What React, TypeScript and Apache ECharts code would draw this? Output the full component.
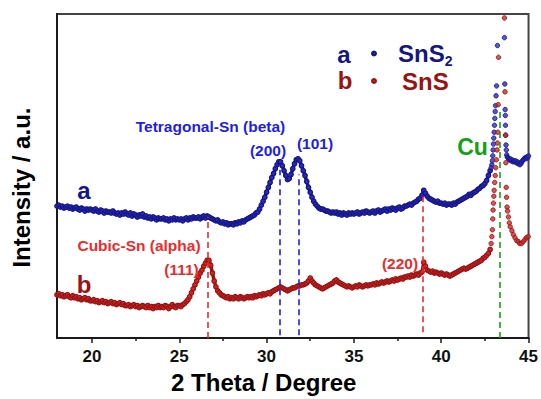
import React, { useEffect, useRef } from "react";
import * as echarts from "echarts";

// ---- data (intensity in arbitrary units) ----
const scanStart = 18.0; // 2-theta of first sample of the regular scan grid
const scanStep = 0.1;

// sample a (SnS2) 18.0 .. 42.8
const intensityA = [
  134, 135, 133, 134, 132, 133, 134, 132, 133, 131,
  132, 133, 131, 130, 132, 131, 129, 131, 130, 131,
  130, 129, 131, 129, 128, 130, 129, 127, 129, 128,
  128, 127, 129, 127, 126, 127, 125, 127, 126, 128,
  126, 125, 127, 124, 126, 125, 123, 125, 124, 126,
  123, 124, 122, 123, 121, 123, 122, 120, 122, 121,
  121, 122, 120, 121, 119, 121, 120, 122, 120, 121,
  120, 121, 119, 121, 122, 120, 122, 121, 123, 122,
  122, 123, 121, 123, 124, 122, 124, 123, 122, 121,
  120, 119, 120, 118, 117, 118, 116, 117, 115, 116,
  116, 115, 117, 116, 118, 117, 119, 118, 120, 121,
  122, 123, 124, 125, 127, 128, 131, 135, 139, 143,
  148, 153, 158, 163, 167, 172, 176, 179, 179, 175,
  170, 165, 161, 162, 166, 172, 177, 181, 182, 180,
  175, 170, 165, 159, 153, 148, 143, 139, 136, 134,
  132, 131, 131, 130, 129, 129, 128, 127, 128, 127,
  128, 126, 127, 125, 127, 126, 125, 127, 126, 127,
  126, 127, 128, 126, 127, 128, 127, 129, 128, 127,
  128, 129, 127, 129, 130, 128, 129, 130, 131, 129,
  131, 130, 132, 131, 130, 132, 133, 131, 132, 134,
  134, 135, 136, 135, 137, 138, 139, 141, 142, 145,
  150, 147, 144, 142, 141, 140, 139, 138, 139, 137,
  137, 136, 137, 135, 136, 136, 135, 137, 136, 138,
  139, 140, 141, 142, 143, 144, 146, 145, 147, 148,
  149, 151, 152, 154, 155, 157, 160, 165, 170,
];

// sample b (SnS) 18.0 .. 42.8
const intensityB = [
  44, 45, 43, 44, 42, 43, 44, 42, 41, 43,
  41, 42, 40, 41, 39, 40, 41, 39, 40, 38,
  38, 39, 37, 38, 36, 37, 38, 36, 37, 35,
  36, 37, 35, 36, 34, 35, 36, 34, 35, 33,
  33, 34, 32, 33, 34, 32, 33, 31, 32, 33,
  32, 31, 33, 31, 32, 30, 32, 31, 33, 31,
  32, 31, 33, 32, 30, 32, 34, 32, 31, 33,
  33, 32, 34, 35, 37, 39, 42, 46, 50, 54,
  58, 62, 66, 69, 73, 76, 79, 79, 74, 66,
  58, 52, 48, 46, 44, 43, 42, 41, 42, 40,
  41, 40, 42, 41, 40, 42, 41, 40, 41, 42,
  41, 42, 41, 43, 42, 43, 44, 43, 45, 44,
  45, 46, 45, 47, 48, 49, 50, 51, 52, 51,
  50, 49, 48, 49, 50, 51, 51, 52, 53, 53,
  54, 54, 55, 56, 58, 61, 58, 56, 54, 53,
  52, 51, 50, 51, 52, 53, 54, 55, 56, 58,
  59, 57, 56, 55, 54, 53, 52, 53, 52, 51,
  52, 53, 52, 54, 53, 52, 53, 54, 53, 54,
  54, 55, 54, 56, 55, 56, 57, 56, 57, 58,
  57, 58, 59, 58, 60, 59, 60, 61, 60, 62,
  62, 63, 62, 64, 63, 64, 65, 64, 66, 67,
  77, 73, 69, 68, 67, 68, 66, 67, 66, 65,
  66, 65, 64, 65, 64, 63, 64, 65, 66, 67,
  68, 69, 70, 71, 70, 71, 72, 73, 74, 75,
  76, 77, 78, 79, 81, 82, 84, 86, 90,
];

// Cu substrate peak region (sparse visible points; top of peak is off-scale)
const cuAnglesA = [
  42.86, 42.9, 42.93, 42.95, 42.97, 42.99, 43.01, 43.03, 43.05, 43.07,
  43.09, 43.11, 43.14, 43.17, 43.22, 43.62, 43.64, 43.66, 43.67, 43.68,
  43.69, 43.71, 43.73, 43.75, 43.78, 43.82, 43.86, 43.9, 43.95, 44.0,
  44.05, 44.1, 44.15, 44.2, 44.25, 44.3, 44.35, 44.4, 44.45, 44.5,
  44.55, 44.6, 44.65, 44.7, 44.75, 44.8, 44.85, 44.9, 44.95, 45.0,
];
const cuIntensityA = [
  173, 176, 180, 185, 191, 197, 203, 209, 216, 223,
  230, 236, 246, 256, 297, 305, 258, 232, 226, 216,
  206, 196, 191, 186, 184, 183, 182, 181, 182, 180,
  181, 179, 180, 179, 180, 178, 179, 177, 178, 176,
  177, 178, 180, 181, 182, 183, 182, 184, 183, 185,
];
const cuAnglesB = [
  42.86, 42.9, 42.93, 42.95, 42.97, 42.99, 43.01, 43.03, 43.06, 43.09,
  43.12, 43.16, 43.2, 43.22, 43.24, 43.26, 43.28, 43.62, 43.65, 43.68,
  43.7, 43.72, 43.74, 43.77, 43.8, 43.85, 43.9, 43.95, 44.05, 44.13,
  44.22, 44.32, 44.41, 44.5, 44.6, 44.7, 44.79, 44.88, 44.98,
];
const cuIntensityB = [
  96, 103, 110, 121, 130, 137, 144, 150, 158, 165,
  173, 181, 191, 198, 209, 237, 285, 325, 250, 206,
  178, 153, 143, 133, 129, 123, 117, 113, 109, 105,
  102, 99, 98, 96, 96, 98, 100, 102, 103,
];

const majorTicks = [20, 25, 30, 35, 40, 45];
const minorTicks = [22.5, 27.5, 32.5, 37.5, 42.5];

// reference peak positions (2-theta) and the intensity span of their dashed markers
const betaSnPeaks = [30.75, 31.85];
const betaSnTops = [171, 166];
const alphaSnPeaks = [26.65, 38.97];
const alphaSnTops = [123, 148];
const cuPeak = 43.37;
const cuTop = 233;

const sampleNames = ["a", "b"];
const sampleLabels = ["SnS{sub|2}", "SnS"];

// ---- styling ----
const FONT = 'Arial, "Liberation Sans", Helvetica, sans-serif';
const NAVY = "#15158a";
const NAVY_FILL = "#2a2ab4";
const DARKRED = "#9a1212";
const RED_FILL = "#cc2828";
const BLUE = "#1e1ee6";
const RED = "#ee2a2a";
const GREEN = "#14a014";

function gridPoints(values: number[]) {
  return values.map((v, i) => [Number((scanStart + i * scanStep).toFixed(2)), v]);
}
function pairPoints(angles: number[], values: number[]) {
  return angles.map((a, i) => [a, values[i]]);
}

function lineSeries(name: string, values: number[], fill: string, stroke: string) {
  return {
    name,
    type: "line",
    xAxisIndex: 0,
    data: gridPoints(values),
    symbol: "circle",
    symbolSize: 4.5,
    showSymbol: true,
    showAllSymbol: true,
    lineStyle: { color: stroke, width: 3.5 },
    itemStyle: { color: fill, borderColor: stroke, borderWidth: 1.2 },
    z: 2,
  };
}
function dotSeries(name: string, angles: number[], values: number[], fill: string, stroke: string) {
  return {
    name,
    type: "scatter",
    xAxisIndex: 0,
    data: pairPoints(angles, values),
    symbol: "circle",
    symbolSize: 4.5,
    itemStyle: { color: fill, borderColor: stroke, borderWidth: 1 },
    z: 2,
  };
}

function dashed(angle: number, top: number, color: string, bottom = 0) {
  return [
    { coord: [angle, bottom], lineStyle: { color, type: [6, 4], width: 1.6 } },
    { coord: [angle, top] },
  ];
}

function txt(text: string, x: number, y: number, color: string, size: number) {
  return {
    type: "text",
    x,
    y,
    silent: true,
    z: 10,
    style: {
      text,
      fill: color,
      fontSize: size,
      fontWeight: "bold",
      fontFamily: FONT,
      align: "center",
      verticalAlign: "middle",
      textAlign: "center",
      textVerticalAlign: "middle",
    },
  };
}

function legendFor(idx: number, top: number, padLeft: number, color: string, lineHeight: number) {
  return {
    orient: "vertical",
    left: 371,
    top,
    padding: 0,
    itemWidth: 4,
    itemHeight: 4,
    icon: "circle",
    selectedMode: false,
    data: [{ name: sampleNames[idx], textStyle: { color } }],
    formatter: (name: string) => sampleLabels[sampleNames.indexOf(name)],
    textStyle: {
      fontSize: 24,
      fontWeight: "bold",
      fontFamily: FONT,
      lineHeight,
      padding: [0, 0, 0, padLeft],
      rich: {
        sub: { fontSize: 14, fontWeight: "bold", fontFamily: FONT, lineHeight, verticalAlign: "bottom" },
      },
    },
  };
}

export default function App() {
  const ref = useRef<HTMLDivElement>(null);
  useEffect(() => {
    if (!ref.current) return;
    const chart = echarts.init(ref.current, undefined, { renderer: "svg" });
    const axisColor = "#1a1a1a";
    const option: any = {
      animation: false,
      backgroundColor: "#ffffff",
      grid: {
        left: 57,
        right: 9,
        top: 14,
        bottom: 56,
        show: true,
        borderColor: "#444444",
        borderWidth: 2,
        backgroundColor: "transparent",
      },
      legend: [legendFor(0, 39, 17, NAVY, 29), legendFor(1, 69, 21, DARKRED, 23)],
      xAxis: [
        {
          type: "value",
          min: 18,
          max: 45,
          position: "bottom",
          axisLine: { show: true, onZero: false, lineStyle: { color: axisColor, width: 2 } },
          axisTick: { show: true, customValues: majorTicks, length: 5, inside: false, lineStyle: { color: axisColor, width: 1.5 } },
          axisLabel: {
            show: true,
            customValues: majorTicks,
            margin: 10,
            fontSize: 17,
            fontWeight: "bold",
            color: "#111111",
            fontFamily: FONT,
          },
          splitLine: { show: false },
          name: "2 Theta / Degree",
          nameLocation: "middle",
          nameGap: 30,
          nameTextStyle: { fontSize: 24, fontWeight: "bold", color: "#000000", fontFamily: FONT, padding: [0, 58, 0, 0] },
        },
        {
          type: "value",
          min: 18,
          max: 45,
          position: "bottom",
          axisLine: { show: false },
          axisTick: { show: true, customValues: minorTicks, length: 3, inside: false, lineStyle: { color: axisColor, width: 1.5 } },
          axisLabel: { show: false },
          splitLine: { show: false },
        },
      ],
      yAxis: {
        type: "value",
        min: 0,
        max: 329,
        axisLine: { show: true, onZero: false, lineStyle: { color: axisColor, width: 2 } },
        axisTick: { show: false },
        axisLabel: { show: false },
        splitLine: { show: false },
        name: "Intensity / a.u.",
        nameLocation: "middle",
        nameGap: 24,
        nameTextStyle: { fontSize: 24, fontWeight: "bold", color: "#000000", fontFamily: FONT, padding: [0, 23, 0, 0] },
      },
      series: [
        lineSeries(sampleNames[0], intensityA, NAVY_FILL, NAVY),
        dotSeries(sampleNames[0], cuAnglesA, cuIntensityA, NAVY_FILL, NAVY),
        lineSeries(sampleNames[1], intensityB, RED_FILL, DARKRED),
        dotSeries(sampleNames[1], cuAnglesB, cuIntensityB, RED_FILL, DARKRED),
        {
          name: "refs",
          type: "scatter",
          data: [],
          z: 5,
          markLine: {
            silent: true,
            symbol: "none",
            label: { show: false },
            animation: false,
            data: [
              dashed(alphaSnPeaks[0], alphaSnTops[0], RED),
              dashed(betaSnPeaks[0], betaSnTops[0], BLUE, 3),
              dashed(betaSnPeaks[1], betaSnTops[1], BLUE, 3),
              dashed(alphaSnPeaks[1], alphaSnTops[1], RED, 6),
              dashed(cuPeak, cuTop, GREEN),
            ],
          },
        },
      ],
      graphic: [
        txt("a", 84, 190, NAVY, 24),
        txt("b", 84, 284, DARKRED, 24),
        txt("a", 344, 54, NAVY, 24),
        txt("b", 345, 80, DARKRED, 24),
        txt("Tetragonal-Sn (beta)", 210.5, 126, BLUE, 15.5),
        txt("(200)", 268, 150, BLUE, 15.5),
        txt("(101)", 315, 143, BLUE, 15.5),
        txt("Cubic-Sn (alpha)", 139, 245, RED, 15.5),
        txt("(111)", 181.5, 269, RED, 15.5),
        txt("(220)", 400, 263.5, RED, 15.5),
        txt("Cu", 472.5, 147, GREEN, 23),
      ],
    };
    chart.setOption(option);
    return () => chart.dispose();
  }, []);
  return (
    <div
      ref={ref}
      style={{ position: "fixed", left: 0, top: 0, width: 541, height: 399, background: "#fff" }}
    />
  );
}
